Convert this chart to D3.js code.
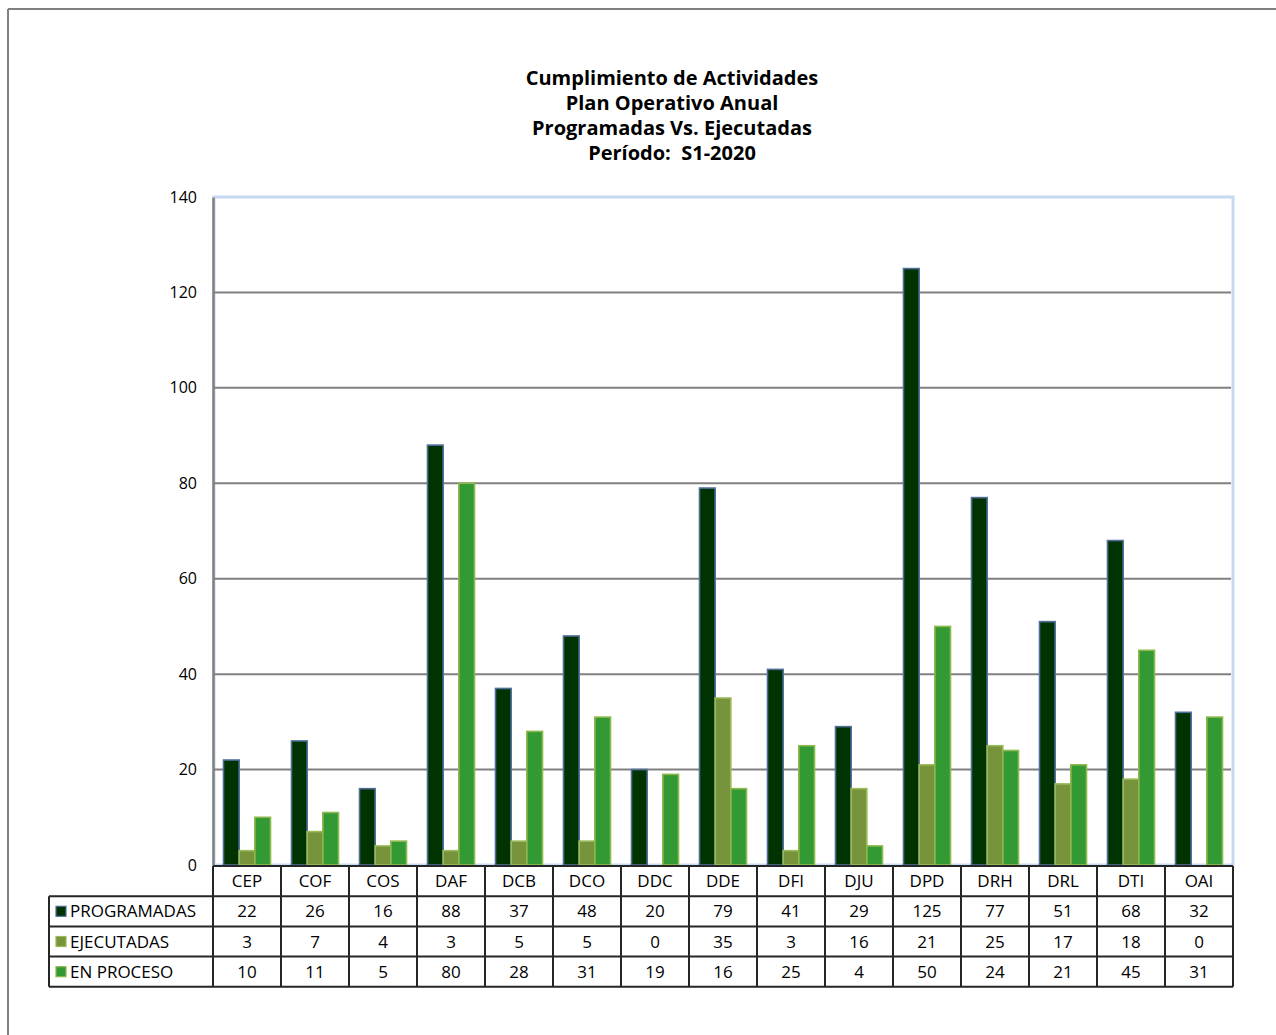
<!DOCTYPE html>
<html>
<head>
<meta charset="utf-8">
<script src="https://cdn.jsdelivr.net/npm/d3@7"></script>
<style>
  html, body { margin: 0; padding: 0; background: #fff; }
  svg { display: block; }
  text { font-family: "Open Sans", Lato, "DejaVu Sans", sans-serif; fill: #000; }
</style>
</head>
<body>
<script>
const categories = ["CEP","COF","COS","DAF","DCB","DCO","DDC","DDE","DFI","DJU","DPD","DRH","DRL","DTI","OAI"];
const programadas = [22,26,16,88,37,48,20,79,41,29,125,77,51,68,32];
const ejecutadas  = [3,7,4,3,5,5,0,35,3,16,21,25,17,18,0];
const enProceso   = [10,11,5,80,28,31,19,16,25,4,50,24,21,45,31];
const seriesNames = ["PROGRAMADAS","EJECUTADAS","EN PROCESO"];
const yTicks = [0,20,40,60,80,100,120,140];
const titleLines = ["Cumplimiento de Actividades","Plan Operativo Anual","Programadas Vs. Ejecutadas","Período:  S1-2020"];

const seriesValues = [programadas, ejecutadas, enProceso];
const fills   = ["#003300", "#77933c", "#339933"];
const strokes = ["#4f6f9a", "#9bbb59", "#8fb84f"];

const W = 1276, H = 1035;
const svg = d3.select("body").append("svg").attr("width", W).attr("height", H);

// outer frame (top and left only visible)
svg.append("line").attr("x1", 8).attr("x2", W).attr("y1", 9).attr("y2", 9).attr("stroke", "#808080").attr("stroke-width", 2);
svg.append("line").attr("x1", 8).attr("x2", 8).attr("y1", 9).attr("y2", H).attr("stroke", "#808080").attr("stroke-width", 2);

// title
const title = svg.append("text").attr("text-anchor", "middle").attr("font-weight", "bold").attr("font-size", 20)
  .style("white-space", "pre").attr("xml:space", "preserve");
titleLines.forEach((t, i) => title.append("tspan").attr("x", 672).attr("y", 85 + i * 25).text(t));

const plot = { left: 213, right: 1233, top: 197, bottom: 865 };
const x = d3.scaleBand().domain(categories).range([plot.left, plot.right]).paddingInner(0).paddingOuter(0);
const xs = d3.scaleBand().domain(d3.range(3)).range([0, x.bandwidth()]).paddingInner(0).paddingOuter(0.67);
const y = d3.scaleLinear().domain([0, 140]).range([plot.bottom, plot.top]);

// plot frame (light blue)
svg.append("rect").attr("x", plot.left + 1).attr("y", plot.top).attr("width", plot.right - plot.left - 1).attr("height", plot.bottom - plot.top)
  .attr("fill", "none").attr("stroke", "#c6d9f1").attr("stroke-width", 3);

// gridlines
svg.append("g").selectAll("line").data(yTicks.filter(d => d > 0 && d < 140)).join("line")
  .attr("x1", plot.left).attr("x2", plot.right - 2)
  .attr("y1", d => y(d)).attr("y2", d => y(d))
  .attr("stroke", "#808080").attr("stroke-width", 2);

// y axis
const yAxis = svg.append("g").attr("transform", `translate(${plot.left},0)`)
  .call(d3.axisLeft(y).tickValues(yTicks).tickSize(0).tickPadding(16));
yAxis.select(".domain").attr("stroke", "#808080").attr("stroke-width", 2.5);
yAxis.selectAll("text").attr("font-size", 16).style("font-family", "'Open Sans', Lato, sans-serif").attr("fill", "#000");

// bars
categories.forEach((c, ci) => {
  seriesValues.forEach((vals, si) => {
    const v = vals[ci];
    if (v <= 0) return;
    svg.append("rect")
      .attr("x", x(c) + xs(si))
      .attr("y", y(v))
      .attr("width", xs.bandwidth())
      .attr("height", y(0) - y(v))
      .attr("fill", fills[si])
      .attr("stroke", strokes[si])
      .attr("stroke-width", 1.6);
  });
});

// data table
const rowTop = 866, rowH = 30.2;
const legLeft = 49;
const fs = 17;
const tbl = svg.append("g");
const lineColor = "#262626";
categories.forEach(c => {
  tbl.append("text").attr("x", x(c) + x.bandwidth() / 2).attr("y", rowTop + rowH / 2 + 6)
    .attr("text-anchor", "middle").attr("font-size", fs).text(c);
});
seriesValues.forEach((vals, si) => {
  const ry = rowTop + rowH * (si + 1);
  categories.forEach((c, ci) => {
    tbl.append("text").attr("x", x(c) + x.bandwidth() / 2).attr("y", ry + rowH / 2 + 6)
      .attr("text-anchor", "middle").attr("font-size", fs).text(vals[ci]);
  });
  tbl.append("rect").attr("x", 56).attr("y", ry + rowH / 2 - 5).attr("width", 10).attr("height", 10)
    .attr("fill", fills[si]).attr("stroke", strokes[si]).attr("stroke-width", 1.2);
  tbl.append("text").attr("x", 70).attr("y", ry + rowH / 2 + 6).attr("font-size", fs).text(seriesNames[si]);
});
const tableBottom = rowTop + rowH * 4;
tbl.append("line").attr("x1", plot.left).attr("x2", plot.right).attr("y1", rowTop).attr("y2", rowTop).attr("stroke", lineColor).attr("stroke-width", 2);
for (let i = 1; i <= 4; i++) {
  const yy = rowTop + rowH * i;
  tbl.append("line").attr("x1", legLeft).attr("x2", plot.right).attr("y1", yy).attr("y2", yy).attr("stroke", lineColor).attr("stroke-width", 2);
}
tbl.append("line").attr("x1", legLeft).attr("x2", legLeft).attr("y1", rowTop + rowH).attr("y2", tableBottom).attr("stroke", lineColor).attr("stroke-width", 2);
categories.forEach(c => {
  tbl.append("line").attr("x1", x(c)).attr("x2", x(c)).attr("y1", rowTop).attr("y2", tableBottom).attr("stroke", lineColor).attr("stroke-width", 2);
});
tbl.append("line").attr("x1", plot.right).attr("x2", plot.right).attr("y1", rowTop).attr("y2", tableBottom).attr("stroke", lineColor).attr("stroke-width", 2);
</script>
</body>
</html>
